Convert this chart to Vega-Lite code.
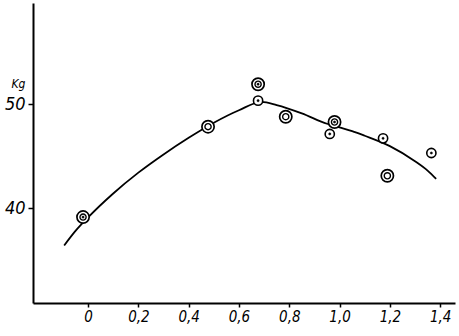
{
  "$schema": "https://vega.github.io/schema/vega-lite/v6.json",
  "width": 422,
  "height": 300,
  "autosize": {"type": "none"},
  "padding": {"left": 33, "top": 3, "right": 4, "bottom": 33},
  "background": "white",
  "config": {"view": {"stroke": null}},
  "datasets": {
    "curve": [
      {"x": -0.095, "y": 36.4},
      {"x": -0.05, "y": 37.8},
      {"x": 0.0, "y": 39.1},
      {"x": 0.1, "y": 41.4},
      {"x": 0.2, "y": 43.4},
      {"x": 0.3, "y": 45.15},
      {"x": 0.4, "y": 46.75},
      {"x": 0.5, "y": 48.2},
      {"x": 0.6, "y": 49.4},
      {"x": 0.69, "y": 50.2},
      {"x": 0.75, "y": 49.9},
      {"x": 0.85, "y": 49.1},
      {"x": 0.95, "y": 48.1},
      {"x": 1.0, "y": 47.75},
      {"x": 1.05, "y": 47.4},
      {"x": 1.1, "y": 46.95},
      {"x": 1.2, "y": 45.95},
      {"x": 1.3, "y": 44.5},
      {"x": 1.35, "y": 43.6},
      {"x": 1.384, "y": 42.8}
    ],
    "pts": [
      {"x": -0.02, "y": 39.13, "type": "A"},
      {"x": 0.676, "y": 51.9, "type": "A"},
      {"x": 0.98, "y": 48.27, "type": "A"},
      {"x": 0.477, "y": 47.82, "type": "B"},
      {"x": 0.786, "y": 48.78, "type": "B"},
      {"x": 1.19, "y": 43.1, "type": "B"},
      {"x": 0.676, "y": 50.32, "type": "C"},
      {"x": 0.961, "y": 47.12, "type": "C"},
      {"x": 1.173, "y": 46.7, "type": "C"},
      {"x": 1.365, "y": 45.29, "type": "C"}
    ]
  },
  "encoding": {
    "x": {
      "field": "x", "type": "quantitative",
      "scale": {"domain": [-0.219, 1.459], "nice": false, "zero": false},
      "axis": {
        "title": null, "grid": false,
        "values": [0, 0.2, 0.4, 0.6, 0.8, 1.0, 1.2, 1.4],
        "labelExpr": "datum.value == 0 ? '0' : replace(format(datum.value, '.1f'), '.', ',')",
        "domainColor": "black", "domainWidth": 2,
        "tickColor": "black", "tickWidth": 1.5, "tickSize": 4,
        "labelFont": "Liberation Sans Narrow, DejaVu Sans Condensed, sans-serif",
        "labelFontStyle": "italic", "labelFontSize": 15, "labelColor": "black",
        "labelPadding": 2
      }
    },
    "y": {
      "field": "y", "type": "quantitative",
      "scale": {"domain": [30.87, 59.71], "nice": false, "zero": false},
      "axis": {
        "title": "Kg", "grid": false,
        "values": [40, 50],
        "domainColor": "black", "domainWidth": 2,
        "tickColor": "black", "tickWidth": 1.5, "tickSize": 5,
        "labelFont": "Liberation Sans Narrow, DejaVu Sans Condensed, sans-serif",
        "labelFontStyle": "italic", "labelFontSize": 18, "labelColor": "black",
        "labelPadding": 3,
        "titleAngle": 0, "titleX": -15, "titleY": 84, "titleAlign": "center",
        "titleBaseline": "alphabetic",
        "titleFont": "Liberation Sans Narrow, DejaVu Sans Condensed, sans-serif",
        "titleFontStyle": "italic", "titleFontWeight": "normal", "titleFontSize": 12, "titleColor": "black"
      }
    }
  },
  "layer": [
    {
      "data": {"name": "curve"},
      "mark": {"type": "line", "interpolate": "monotone", "color": "black", "strokeWidth": 1.8}
    },
    {
      "data": {"name": "pts"},
      "transform": [{"filter": "datum.type != 'C'"}],
      "mark": {"type": "point", "shape": "circle", "size": 150, "fill": "white", "stroke": "black", "strokeWidth": 1.7, "opacity": 1}
    },
    {
      "data": {"name": "pts"},
      "transform": [{"filter": "datum.type == 'C'"}],
      "mark": {"type": "point", "shape": "circle", "size": 85, "fill": "white", "stroke": "black", "strokeWidth": 1.6, "opacity": 1}
    },
    {
      "data": {"name": "pts"},
      "transform": [{"filter": "datum.type != 'C'"}],
      "mark": {"type": "point", "shape": "circle", "size": 38, "fill": "white", "stroke": "black", "strokeWidth": 1.4, "opacity": 1}
    },
    {
      "data": {"name": "pts"},
      "transform": [{"filter": "datum.type != 'B'"}],
      "mark": {"type": "point", "shape": "circle", "size": 5, "fill": "black", "stroke": "black", "strokeWidth": 0.5, "opacity": 1}
    }
  ]
}
